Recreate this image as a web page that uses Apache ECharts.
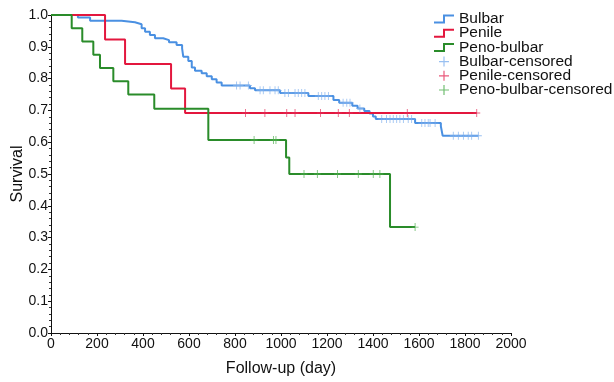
<!DOCTYPE html>
<html>
<head>
<meta charset="utf-8">
<script src="https://cdn.jsdelivr.net/npm/echarts@6/dist/echarts.min.js"></script>
<style>html,body{margin:0;padding:0;background:#fff}#c{width:614px;height:382px}</style>
</head>
<body>
<div id="c"></div>
<script>
// Kaplan-Meier step data (time in days, survival after event)
const bulbarT = [0,117,170,307,365,394,409,430,452,488,513,546,570,575,597,612,626,655,677,699,720,742,865,887,996,1119,1228,1253,1310,1333,1362,1385,1400,1412,1583,1695,1703,1858];
const bulbarS = [1,0.992,0.982,0.977,0.971,0.958,0.947,0.937,0.927,0.921,0.914,0.906,0.895,0.869,0.855,0.835,0.825,0.817,0.807,0.798,0.788,0.778,0.770,0.763,0.755,0.745,0.733,0.724,0.715,0.706,0.698,0.690,0.681,0.673,0.660,0.650,0.620,0.620];
const bulbarCensor = [807,822,858,909,923,952,974,988,1017,1032,1061,1075,1090,1104,1162,1177,1191,1206,1270,1286,1300,1343,1438,1459,1474,1488,1503,1517,1532,1553,1568,1612,1626,1640,1648,1670,1749,1771,1793,1814,1829,1858];

const penileT = [0,235,322,522,583,1851];
const penileS = [1,0.923,0.846,0.769,0.692,0.692];
const penileCensor = [846,930,1025,1061,1172,1249,1297,1549,1851];

const penoT = [0,90,136,184,213,271,336,449,684,1022,1036,1474,1583];
const penoS = [1,0.958,0.917,0.875,0.833,0.792,0.75,0.705,0.607,0.552,0.500,0.333,0.333];
const penoCensor = [883,967,978,1100,1158,1246,1336,1401,1430,1583];

const seriesNames = ['Bulbar','Penile','Peno-bulbar','Bulbar-censored','Penile-censored','Peno-bulbar-censored'];
const lineColors = ['#4a90e2','#e3173e','#2a8c2a'];
const censorColors = ['#7fb0ee','#e3305a','#4fae4f'];

function pairs(T,S){ return T.map((t,i)=>[t,S[i]]); }
function at(T,S,t){ let v=S[0]; for(let i=0;i<T.length;i++){ if(T[i]<=t) v=S[i]; } return v; }
function cens(T,S,C){ return C.map(t=>[t,at(T,S,t)]); }

const FONT = '"Liberation Sans", Arial, sans-serif';
const plus = 'path://M4.4,0H5.6V10H4.4Z M0,4.4H10V5.6H0Z';
const stepIcon = 'path://M0,8H9V1H20V3H11V10H0Z';

const chart = echarts.init(document.getElementById('c'), null, {renderer:'canvas'});
const lineSeries = (name, data, color) => ({
  name, type:'line', step:'end', data, showSymbol:false, symbol:'none',
  lineStyle:{color, width:2}, itemStyle:{color}, animation:false, z:2
});
const censSeries = (name, data, color) => ({
  name, type:'scatter', data, symbol:plus, symbolSize:[7,8],
  itemStyle:{color}, animation:false, z:3
});

chart.setOption({
  animation:false,
  grid:{left:51, right:103, top:15, bottom:49, containLabel:false, outerBoundsMode:'none'},
  legend:{
    orient:'vertical', left:434, top:11, itemWidth:20, itemHeight:10, itemGap:-1.8,
    padding:0,
    textStyle:{fontFamily:FONT, fontSize:15.5, lineHeight:13.7, color:'#111'},
    data:[
      {name:seriesNames[0], icon:stepIcon},
      {name:seriesNames[1], icon:stepIcon},
      {name:seriesNames[2], icon:stepIcon},
      {name:seriesNames[3], icon:plus},
      {name:seriesNames[4], icon:plus},
      {name:seriesNames[5], icon:plus}
    ]
  },
  xAxis:{
    type:'value', min:0, max:2000, interval:200,
    name:'Follow-up (day)', nameLocation:'middle', nameGap:28, nameMoveOverlap:false,
    nameTextStyle:{fontFamily:FONT, fontSize:16, color:'#111'},
    axisLine:{show:true, onZero:false, lineStyle:{color:'#111', width:1}},
    axisTick:{show:true, length:3, lineStyle:{color:'#111'}},
    minorTick:{show:true, splitNumber:5, length:2, lineStyle:{color:'#333'}},
    axisLabel:{fontFamily:FONT, fontSize:14, color:'#111', margin:4,
      formatter:v=>String(v)},
    splitLine:{show:false}
  },
  yAxis:{
    type:'value', min:0, max:1, interval:0.1,
    name:'Survival', nameLocation:'middle', nameGap:25, nameMoveOverlap:false,
    nameTextStyle:{fontFamily:FONT, fontSize:16, color:'#111'},
    axisLine:{show:true, onZero:false, lineStyle:{color:'#111', width:1}},
    axisTick:{show:true, length:3, lineStyle:{color:'#111'}},
    minorTick:{show:true, splitNumber:5, length:2, lineStyle:{color:'#333'}},
    axisLabel:{fontFamily:FONT, fontSize:14, color:'#111', margin:3,
      formatter:v=>v.toFixed(1)},
    splitLine:{show:false}
  },
  series:[
    lineSeries(seriesNames[0], pairs(bulbarT,bulbarS), lineColors[0]),
    lineSeries(seriesNames[1], pairs(penileT,penileS), lineColors[1]),
    lineSeries(seriesNames[2], pairs(penoT,penoS), lineColors[2]),
    censSeries(seriesNames[3], cens(bulbarT,bulbarS,bulbarCensor), censorColors[0]),
    censSeries(seriesNames[4], cens(penileT,penileS,penileCensor), censorColors[1]),
    censSeries(seriesNames[5], cens(penoT,penoS,penoCensor), censorColors[2])
  ]
});
</script>
</body>
</html>
